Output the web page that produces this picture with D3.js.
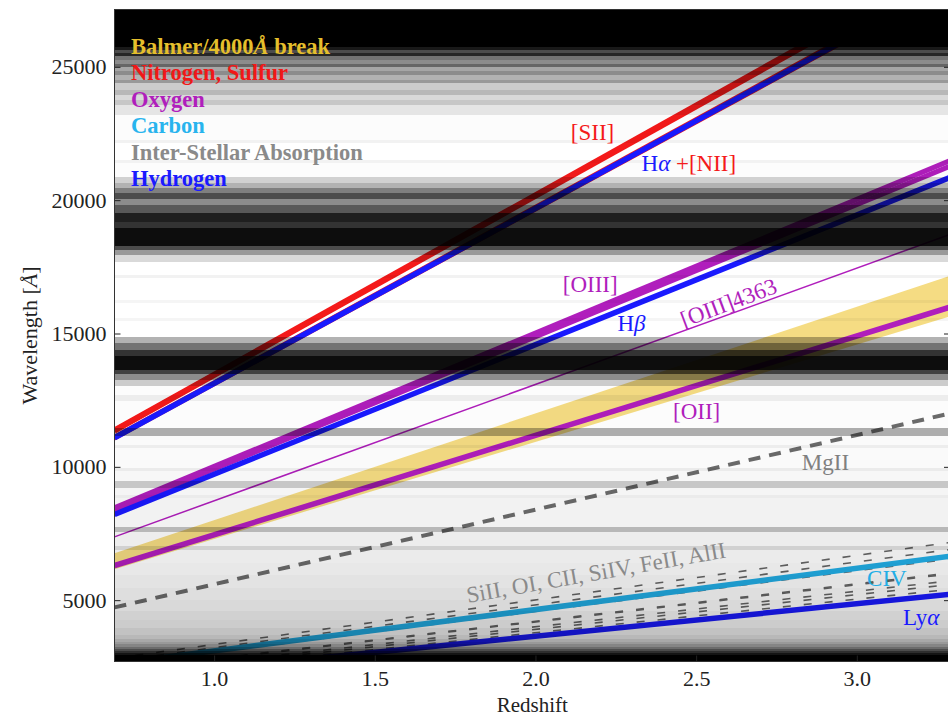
<!DOCTYPE html>
<html>
<head>
<meta charset="utf-8">
<script src="https://cdn.jsdelivr.net/npm/d3@7"></script>
<style>
  body { margin: 0; background: #fff; }
  svg { display: block; }
</style>
</head>
<body>
<svg id="chart" width="948" height="717"></svg>
<script>
// ---- Rest-frame wavelengths (Å) of the features followed with redshift ----
const balmerBreak    = [3646, 4000];                 // Balmer limit .. 4000 Å break
const nitrogenRest   = [6548, 6584];                 // [NII] doublet
const sulfurRest     = [6717, 6731];                 // [SII] doublet
const hydrogenRest   = [6563, 4861, 1216];           // Hα, Hβ, Lyα
const oxygenRest     = [4959, 5007, 3727];           // [OIII] doublet, [OII]
const oxygenFaint    = [4363];                       // [OIII]4363 auroral line
const carbonRest     = [1549];                       // CIV
const magnesiumRest  = [2798];                       // MgII
const ismRest        = [1260, 1302, 1334, 1394, 1403, 1526, 1608, 1670]; // SiII, OI, CII, SiIV, SiII, FeII, AlII

// ---- Atmospheric transmission: band edges (Å) and transmission within each band ----
const atmEdges = [2700, 2944, 3020, 3094, 3170, 3244, 3340, 3431, 3560, 3694, 3950, 4256, 4600, 5006, 5450,
  5944, 6400, 6881, 7031, 7556, 7744, 8831, 8944, 9206, 9469, 9844, 9956, 10706, 10819, 11156, 11456,
  12469, 12694, 13031, 13256, 13481, 13631, 14156, 14381, 14644, 14869, 15469, 15581, 16144, 16256,
  17081, 17194, 17681, 17944, 18131, 18281, 18956, 19181, 19519, 19819, 20044, 20269, 20456, 20644,
  20869, 21394, 21506, 22144, 22256, 23194, 23569, 23756, 23944, 24131, 24394, 24506, 24694, 24844,
  24994, 25106, 25256, 25406, 25519, 25631, 25744, 27150];
const atmTrans = [0.0, 0.08, 0.18, 0.3, 0.42, 0.52, 0.6, 0.66, 0.72, 0.76, 0.8, 0.82, 0.85, 0.87, 0.89,
  0.91, 0.92, 0.82, 0.93, 0.72, 0.95, 0.92, 0.96, 0.78, 0.97, 0.92, 0.98, 0.93, 0.98, 0.68, 0.99,
  0.93, 0.99, 0.8, 0.55, 0.25, 0.05, 0.2, 0.45, 0.7, 1.0, 0.96, 1.0, 0.96, 1.0,
  0.95, 1.0, 0.85, 0.6, 0.3, 0.05, 0.2, 0.12, 0.35, 0.55, 0.3, 0.5, 0.7, 0.82,
  0.99, 0.95, 1.0, 0.95, 0.99, 0.9, 0.78, 0.85, 0.72, 0.8, 0.6, 0.7, 0.55, 0.65,
  0.4, 0.55, 0.45, 0.15, 0.3, 0.1, 0.0];

// ---- Axes ----
const zDomain = [0.69, 3.29];
const wlDomain = [2700, 27150];
const xTicks = [1.0, 1.5, 2.0, 2.5, 3.0];
const yTicks = [5000, 10000, 15000, 20000, 25000];

// ---- Legend ----
const legendNames  = ["Balmer/4000", "Nitrogen, Sulfur", "Oxygen", "Carbon", "Inter-Stellar Absorption", "Hydrogen"];
const legendColors = ["#e5bf2c", "#f01818", "#b01ebc", "#28b4ee", "#8a8a8a", "#1a1aff"];

const COL = {
  red: "#f41a1a", blue: "#1a1aff", purple: "#b01ebc", cyan: "#22aee6",
  gray: "#6c6c6c", yellow: "#f2d05a"
};
const SERIF = "'Liberation Serif','Times New Roman',serif";

const svg = d3.select("#chart");
const L = 114.5, R = 950, T = 9.5, B = 661.5;

const x = d3.scaleLinear().domain(zDomain).range([L, R]);
const y = d3.scaleLinear().domain(wlDomain).range([B, T]);

svg.append("defs").append("clipPath").attr("id", "plot")
  .append("rect").attr("x", L).attr("y", T).attr("width", R - L).attr("height", B - T);

const plot = svg.append("g").attr("clip-path", "url(#plot)");
plot.append("rect").attr("x", L).attr("y", T).attr("width", R - L).attr("height", B - T).attr("fill", "#fff");

// observed wavelength track of a rest-frame line across the redshift range
const track = rest => zDomain.map(z => [z, rest * (1 + z)]);
const line = d3.line().x(d => x(d[0])).y(d => y(d[1]));

function drawLines(rests, color, width, dash) {
  plot.append("g").selectAll("path").data(rests).join("path")
    .attr("d", r => line(track(r)))
    .attr("fill", "none")
    .attr("stroke", color)
    .attr("stroke-width", width)
    .attr("stroke-dasharray", dash || null);
}

// Balmer / 4000 Å break band
const bandPts = zDomain.map(z => [z, balmerBreak[1] * (1 + z)])
  .concat(zDomain.slice().reverse().map(z => [z, balmerBreak[0] * (1 + z)]));
plot.append("path")
  .attr("d", line(bandPts) + "Z")
  .attr("fill", COL.yellow).attr("fill-opacity", 0.75);

// absorption features and emission lines
drawLines(magnesiumRest, COL.gray, 4, "12,9");
drawLines(ismRest, "#666", 1.6, "8,13");
drawLines([hydrogenRest[2]], COL.blue, 5.5);
drawLines(carbonRest, COL.cyan, 5.5);
drawLines([oxygenRest[2]], COL.purple, 5.5);
drawLines(oxygenFaint, COL.purple, 1.5);
drawLines(oxygenRest.slice(0, 2), COL.purple, 5);
drawLines([hydrogenRest[1]], COL.blue, 5.5);
drawLines(nitrogenRest, COL.red, 4);
drawLines([hydrogenRest[0]], COL.blue, 5.5);
drawLines(sulfurRest, COL.red, 5.5);

// atmospheric absorption laid over everything in the plot (whole-pixel bands, no overlaps)
plot.append("g").selectAll("rect").data(atmTrans).join("rect")
  .attr("x", L).attr("width", R - L)
  .attr("y", (t, i) => Math.round(y(atmEdges[i + 1])))
  .attr("height", (t, i) => Math.max(0, Math.round(y(atmEdges[i])) - Math.round(y(atmEdges[i + 1]))))
  .attr("fill", "#000")
  .attr("fill-opacity", t => 1 - t);

// ---- line labels ----
const lab = svg.append("g").attr("font-family", SERIF).attr("font-size", 23);
function label(z, wl, parts, rot) {
  const t = lab.append("text")
    .attr("transform", `translate(${x(z)},${y(wl)}) rotate(${rot || 0})`);
  parts.forEach(p => {
    t.append("tspan").text(p[0]).attr("fill", p[1])
      .attr("font-style", p[2] ? "italic" : null);
  });
}
label(2.11, 22250, [["[SII]", COL.red]]);
label(2.33, 21100, [["H", COL.blue], ["α", COL.blue, true], [" +", COL.red], ["[NII]", COL.red]]);
label(2.085, 16550, [["[OIII]", COL.purple]]);
label(2.255, 15100, [["H", COL.blue], ["β", COL.blue, true]]);
label(2.462, 15220, [["[OIII]4363", COL.purple]], -20.5);
label(2.428, 11794, [["[OII]", COL.purple]]);
label(2.829, 9881, [["MgII", "#808080"]]);
label(1.79, 4894, [["SiII, OI, CII, SiIV, FeII, AlII", "#8a8a8a"]], -10);
label(3.032, 5531, [["CIV", COL.cyan]]);
label(3.144, 4069, [["Ly", COL.blue], ["α", COL.blue, true]]);

// ---- legend ----
const leg = svg.append("g").attr("font-family", SERIF).attr("font-size", 22.5).attr("font-weight", "bold");
legendNames.forEach((n, i) => {
  const t = leg.append("text").attr("x", 131).attr("y", 53.5 + i * 26.5).attr("fill", legendColors[i]);
  if (i === 0) {
    t.append("tspan").text(n);
    t.append("tspan").text("Å").attr("font-style", "italic");
    t.append("tspan").text(" break");
  } else {
    t.text(n);
  }
});

// ---- axes ----
const axL = svg.append("g").attr("transform", `translate(${L},0)`)
  .call(d3.axisLeft(y).tickValues(yTicks).tickFormat(d3.format("d")).tickSize(-6).tickPadding(8));
const axR = svg.append("g").attr("transform", `translate(${R},0)`)
  .call(d3.axisRight(y).tickValues(yTicks).tickFormat("").tickSize(-6));
const axB = svg.append("g").attr("transform", `translate(0,${B})`)
  .call(d3.axisBottom(x).tickValues(xTicks).tickFormat(d3.format(".1f")).tickSize(-6).tickPadding(9));
[axL, axR, axB].forEach(a => {
  a.select(".domain").remove();
  a.selectAll(".tick line").attr("stroke", "#222");
  a.selectAll("text").attr("font-family", SERIF).attr("font-size", 22).attr("fill", "#222");
});
svg.append("rect").attr("x", L).attr("y", T).attr("width", R - L).attr("height", B - T)
  .attr("fill", "none").attr("stroke", "#333").attr("stroke-width", 1);

// axis titles
const yt = svg.append("text").attr("transform", `translate(37,${(T + B) / 2}) rotate(-90)`)
  .attr("text-anchor", "middle").attr("font-family", SERIF).attr("font-size", 22).attr("fill", "#222");
yt.append("tspan").text("Wavelength [");
yt.append("tspan").text("Å").attr("font-style", "italic");
yt.append("tspan").text("]");
svg.append("text").attr("x", (L + R) / 2).attr("y", 711.5).attr("text-anchor", "middle")
  .attr("font-family", SERIF).attr("font-size", 21).attr("fill", "#222").text("Redshift");
</script>
</body>
</html>
